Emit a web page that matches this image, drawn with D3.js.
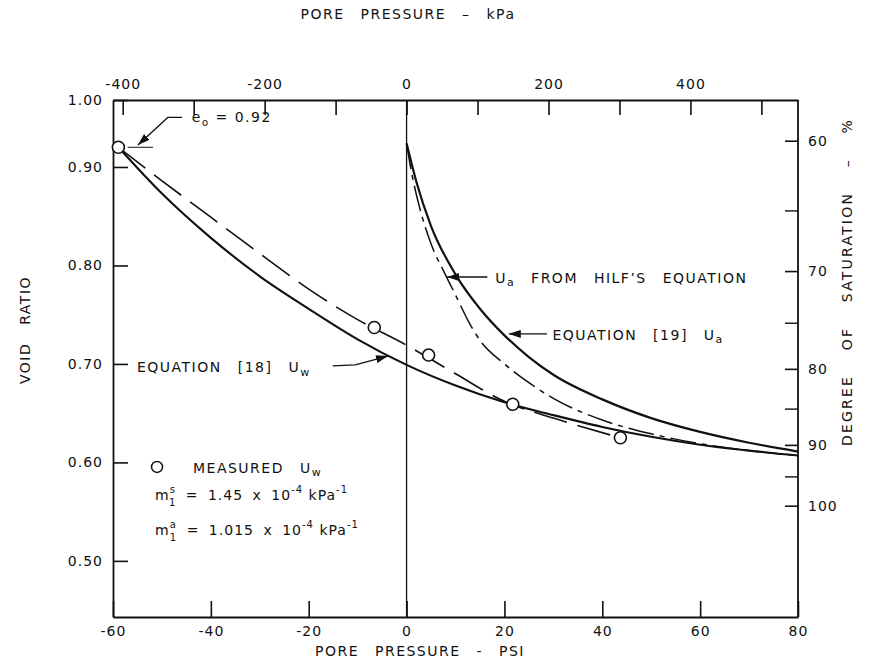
<!DOCTYPE html>
<html>
<head>
<meta charset="utf-8">
<script src="https://cdn.jsdelivr.net/npm/d3@7"></script>
<style>
  body { margin: 0; background: #fff; }
  svg text { font-family: "DejaVu Sans", sans-serif; fill: #111; }
</style>
</head>
<body>
<div id="chart"></div>
<script>
(function(){
	var W = 875, H = 661;

	// axes
	var psiTicks = [-60, -40, -20, 0, 20, 40, 60, 80];
	var kpaTicks = [-400, -300, -200, -100, 0, 100, 200, 300, 400, 500];
	var voidTicks = [0.50, 0.60, 0.70, 0.80, 0.90, 1.00];
	var satTicks = [60, 70, 80, 90, 100];
	var satMinor = [65, 75, 85, 95];

	// curves: [pore pressure psi, void ratio]
	var eq18 = [[-58.9,0.920],[-50,0.873],[-40,0.828],[-30,0.789],[-20,0.756],[-10,0.725],
	            [0,0.699],[10,0.678],[20,0.661],[30,0.648],[40,0.636],[50,0.626],[60,0.618],[70,0.612],[80,0.607]];
	var measuredFit = [[-58.9,0.920],[-50,0.886],[-40,0.849],[-30,0.812],[-20,0.776],[-10,0.745],
	                   [0,0.719],[10,0.690],[20,0.662],[30,0.645],[43.7,0.625]];
	var eq19 = [[0,0.924],[2,0.885],[5,0.840],[10,0.791],[15,0.756],[20,0.729],[25,0.707],[30,0.689],
	            [40,0.664],[50,0.645],[60,0.631],[70,0.620],[80,0.611]];
	var hilf = [[0,0.924],[1,0.895],[2.5,0.862],[5,0.822],[8,0.790],[10,0.770],[13,0.740],[15,0.724],
	            [20,0.700],[25,0.681],[30,0.665],[40,0.643],[50,0.629],[60,0.619],[70,0.612],[80,0.607]];
	var measured = [[-58.9,0.920],[-6.6,0.737],[4.5,0.709],[21.7,0.659],[43.7,0.625]];

	var K = 55.6; // saturation * void ratio

	var svg = d3.select("#chart").append("svg")
		.attr("width", W).attr("height", H);

	var x = d3.scaleLinear().domain([-60, 80]).range([113, 798]);
	var xk = d3.scaleLinear().domain([-60*6.895, 80*6.895]).range([113, 798]);
	// the original scale is squeezed above 0.95
	var y = d3.scaleLinear().domain([0.443, 0.95, 1.00]).range([617, 117.75, 100]);
	var sat = d3.scalePow().exponent(-1).domain([60, 100]).range([y(K/60), y(K/100)]);

	function P(d){ return [x(d[0]), y(d[1])]; }

	var defs = svg.append("defs");
	defs.append("marker").attr("id","arr")
		.attr("viewBox","0 0 12 8").attr("refX",12).attr("refY",4)
		.attr("markerWidth",12).attr("markerHeight",8)
		.attr("markerUnits","userSpaceOnUse").attr("orient","auto")
		.append("path").attr("d","M0,0 L12,4 L0,8 Z").attr("fill","#111");

	function styleAxis(g){
		g.selectAll(".tick line").attr("stroke","#111").attr("stroke-width",1.6);
		g.selectAll("text").attr("font-size",14).attr("letter-spacing",1).attr("fill","#111");
		g.select(".domain").attr("stroke","#111").attr("stroke-width",1.8);
	}

	// bottom
	svg.append("g").attr("transform","translate(0,617)")
		.call(d3.axisBottom(x).tickValues(psiTicks).tickSize(-16).tickPadding(9).tickSizeOuter(0)
			.tickFormat(function(d){ return String(d); }))
		.call(styleAxis);
	// top
	svg.append("g").attr("transform","translate(0,100)")
		.call(d3.axisTop(xk).tickValues(kpaTicks).tickSize(-15).tickPadding(11).tickSizeOuter(0)
			.tickFormat(function(d){ return d % 200 === 0 ? String(d) : ""; }))
		.call(styleAxis);
	// left
	svg.append("g").attr("transform","translate(113,0)")
		.call(d3.axisLeft(y).tickValues(voidTicks).tickSize(-15).tickPadding(10).tickSizeOuter(0)
			.tickFormat(d3.format(".2f")))
		.call(styleAxis);
	// right
	var gr = svg.append("g").attr("transform","translate(798,0)");
	gr.call(d3.axisRight(sat).tickValues(satTicks).tickSize(-13).tickPadding(10))
		.call(styleAxis);
	gr.select(".domain").remove();
	gr.selectAll(".minor").data(satMinor).enter().append("line")
		.attr("x1",0).attr("x2",-13).attr("y1",sat).attr("y2",sat)
		.attr("stroke","#111").attr("stroke-width",1.4);
	gr.append("line").attr("y1",y(1.0)).attr("y2",y(0.443))
		.attr("stroke","#111").attr("stroke-width",1.8);

	// zero line
	svg.append("line").attr("x1",x(0)).attr("x2",x(0)).attr("y1",y(1.0)).attr("y2",y(0.443))
		.attr("stroke","#111").attr("stroke-width",1.3);

	var line = d3.line().x(function(d){ return x(d[0]); }).y(function(d){ return y(d[1]); })
		.curve(d3.curveMonotoneX);

	svg.append("path").datum(eq18).attr("d",line).attr("fill","none")
		.attr("stroke","#111").attr("stroke-width",2.1);
	svg.append("path").datum(measuredFit).attr("d",line).attr("fill","none")
		.attr("stroke","#111").attr("stroke-width",1.6).attr("stroke-dasharray","34,11");
	svg.append("path").datum(eq19).attr("d",line).attr("fill","none")
		.attr("stroke","#111").attr("stroke-width",2.2);
	svg.append("path").datum(hilf).attr("d",line).attr("fill","none")
		.attr("stroke","#111").attr("stroke-width",1.5).attr("stroke-dasharray","26,6,5,6");

	svg.selectAll(".pt").data(measured).enter().append("circle")
		.attr("cx",function(d){ return x(d[0]); }).attr("cy",function(d){ return y(d[1]); })
		.attr("r",6).attr("fill","#fff").attr("stroke","#111").attr("stroke-width",1.6);

	// annotations
	var ann = svg.append("g").attr("font-size",14).attr("letter-spacing",1.5);

	function txt(px, pe){
		var p = P([px, pe]);
		return ann.append("text").attr("x",p[0]).attr("y",p[1]).attr("font-size",14).attr("letter-spacing",1.5);
	}
	function arrow(pts){
		ann.append("path").attr("d", d3.line()(pts.map(P)))
			.attr("fill","none").attr("stroke","#111").attr("stroke-width",1.3)
			.attr("marker-end","url(#arr)");
	}

	// e0
	var t = txt(-43.9, 0.9457);
	t.append("tspan").text("e");
	t.append("tspan").attr("font-size",10).attr("dy",4).text("o");
	t.append("tspan").attr("dy",-4).text(" = 0.92");
	arrow([[-45.9,0.9508],[-48.8,0.9508],[-54.9,0.9223]]);
	ann.append("line").attr("x1",x(-57)).attr("x2",x(-51.8)).attr("y1",y(0.920)).attr("y2",y(0.920))
		.attr("stroke","#111").attr("stroke-width",1);

	// equation 18
	t = txt(-55.1, 0.6919).attr("word-spacing",10);
	t.append("tspan").text("EQUATION [18] U");
	t.append("tspan").attr("font-size",11).attr("dy",4).text("w");
	arrow([[-15.1,0.698],[-10.5,0.699],[-3.8,0.708]]);

	// Hilf
	t = txt(18.1, 0.782).attr("word-spacing",10);
	t.append("tspan").text("U");
	t.append("tspan").attr("font-size",11).attr("dy",3).text("a");
	t.append("tspan").attr("dy",-3).text(" FROM HILF\u2019S EQUATION");
	arrow([[16.5,0.7883],[8.3,0.7883]]);

	// equation 19
	t = txt(29.8, 0.7244).attr("word-spacing",10);
	t.append("tspan").text("EQUATION [19] U");
	t.append("tspan").attr("font-size",11).attr("dy",3).text("a");
	arrow([[28.7,0.7305],[20.9,0.7305]]);

	// legend
	var lp = P([-51.0, 0.5954]);
	ann.append("circle").attr("cx",lp[0]).attr("cy",lp[1]).attr("r",5.5)
		.attr("fill","#fff").attr("stroke","#111").attr("stroke-width",1.5);
	t = txt(-43.65, 0.5893).attr("word-spacing",10);
	t.append("tspan").text("MEASURED U");
	t.append("tspan").attr("font-size",11).attr("dy",3).text("w");

	function mline(pe, sup, val){
		var t = txt(-51.4, pe).attr("letter-spacing",1);
		t.append("tspan").text("m");
		t.append("tspan").attr("font-size",10).attr("dy",-7).text(sup);
		t.append("tspan").attr("font-size",10).attr("dx",-7).attr("dy",13).text("1");
		t.append("tspan").attr("dy",-6).attr("word-spacing",4).text(" = " + val + " x 10");
		t.append("tspan").attr("font-size",10).attr("dy",-7).text("-4");
		t.append("tspan").attr("dy",7).text(" kPa");
		t.append("tspan").attr("font-size",10).attr("dy",-7).text("-1");
	}
	mline(0.562, "s", "1.45");
	mline(0.5264, "a", "1.015");

	// axis titles
	svg.append("text").attr("x",408).attr("y",19).attr("text-anchor","middle")
		.attr("font-size",14).attr("letter-spacing",1.5).attr("word-spacing",10)
		.text("PORE PRESSURE \u2013 kPa");
	svg.append("text").attr("x",420).attr("y",656).attr("text-anchor","middle")
		.attr("font-size",14).attr("letter-spacing",1.5).attr("word-spacing",10)
		.text("PORE PRESSURE - PSI");
	svg.append("text").attr("transform","translate(30,330) rotate(-90)").attr("text-anchor","middle")
		.attr("font-size",14).attr("letter-spacing",1.5).attr("word-spacing",12)
		.text("VOID RATIO");
	svg.append("text").attr("transform","translate(852,282) rotate(-90)").attr("text-anchor","middle")
		.attr("font-size",14).attr("letter-spacing",2.2).attr("word-spacing",18)
		.text("DEGREE OF SATURATION \u2013 %");
})();
</script>
</body>
</html>
